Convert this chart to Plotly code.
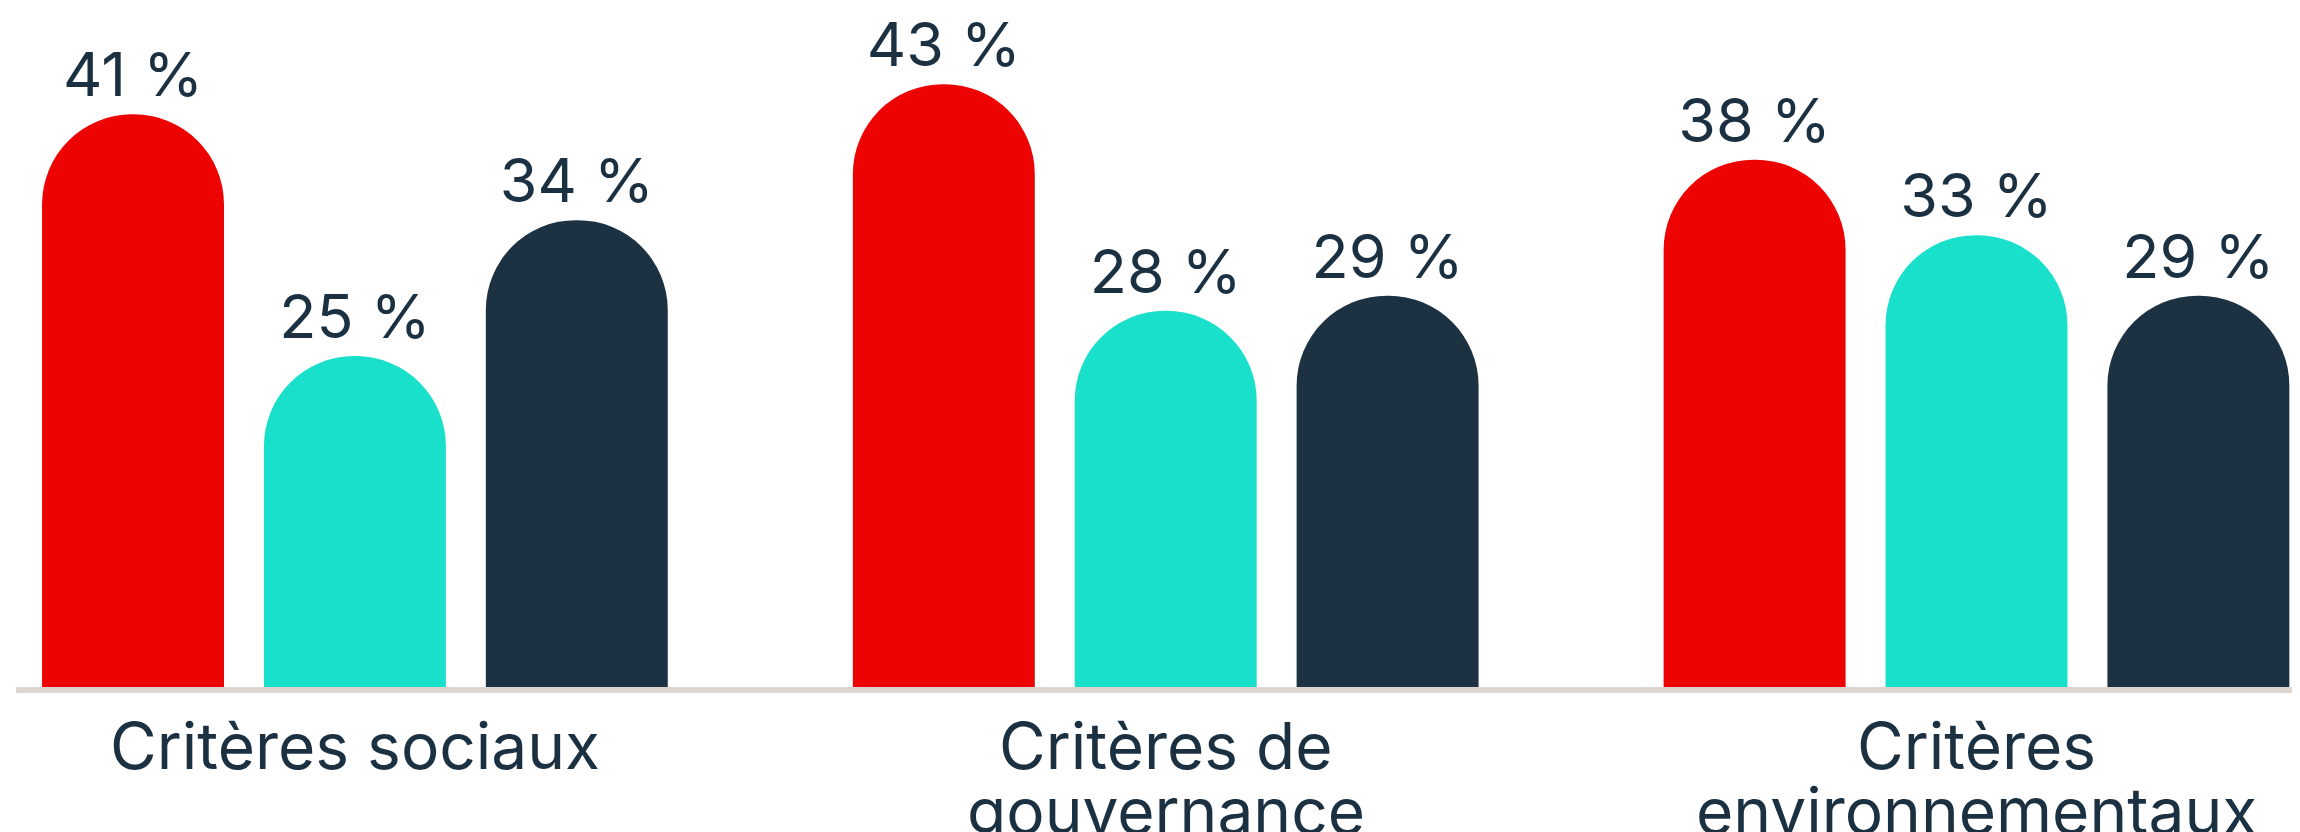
import plotly.graph_objects as go

categories = ["Critères sociaux", "Critères de\ngouvernance", "Critères\nenvironnementaux"]
series_names = ["Série 1", "Série 2", "Série 3"]
series_values = [
    [41, 43, 38],
    [25, 28, 33],
    [34, 29, 29],
]
series_colors = ["#EE0303", "#19E0CB", "#1C3142"]

TEXT_COLOR = "#1B3142"
FONT = "Inter"

x_keys = [c.replace("\n", " ") for c in categories]

fig = go.Figure()
for name, vals, col in zip(series_names, series_values, series_colors):
    fig.add_trace(go.Bar(
        name=name,
        x=x_keys,
        y=vals,
        marker=dict(color=col, cornerradius="50%", line=dict(width=0)),
        text=[f"{v} %" for v in vals],
        textposition="outside",
        constraintext="none",
        textfont=dict(family=FONT, size=61, color=TEXT_COLOR),
        hoverinfo="skip",
    ))

annotations = []
for key, cat in zip(x_keys, categories):
    for j, line in enumerate(cat.split("\n")):
        annotations.append(dict(
            x=key, xref="x", y=0, yref="paper",
            text=line, showarrow=False,
            xanchor="center", yanchor="middle",
            yshift=-58 - 65 * j,
            font=dict(family=FONT, size=64, color=TEXT_COLOR),
        ))

# page body has an 8px default margin, so the figure is offset by 8px
fig.update_layout(
    width=2292, height=824,
    margin=dict(l=8, r=0, t=0, b=145),
    paper_bgcolor="white", plot_bgcolor="white",
    barmode="group", bargap=0.179, bargroupgap=0.18,
    showlegend=False,
    annotations=annotations,
    xaxis=dict(
        type="category", range=[-0.418, 2.399],
        showticklabels=False, ticks="", showgrid=False, zeroline=False,
        showline=True, linecolor="#DDD6D0", linewidth=6,
    ),
    yaxis=dict(
        range=[3.1, 48.04], visible=False, showgrid=False, zeroline=False,
    ),
)

fig.write_html("out.html")
